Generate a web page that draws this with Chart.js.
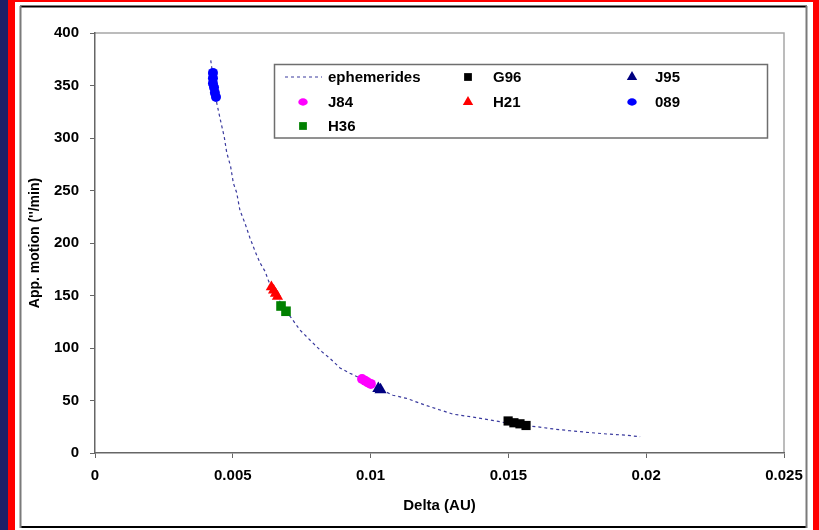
<!DOCTYPE html>
<html>
<head>
<meta charset="utf-8">
<script src="https://cdn.jsdelivr.net/npm/chart.js@4/dist/chart.umd.min.js"></script>
<style>
html,body{margin:0;padding:0;background:#fff;}
#wrap{width:819px;height:530px;}
</style>
</head>
<body>
<div id="wrap"><canvas id="c" width="819" height="530"></canvas></div>
<script>
// ---- data ----
const ephDelta = [0.0042, 0.00442, 0.00456, 0.00469, 0.00478, 0.00492, 0.00502, 0.00514, 0.00526, 0.00544, 0.00562, 0.00581, 0.00599, 0.00617, 0.00631, 0.00653, 0.00682, 0.00714, 0.00744, 0.00786, 0.00823, 0.00853, 0.00889, 0.00925, 0.00983, 0.01034, 0.01081, 0.01131, 0.01197, 0.01252, 0.01299, 0.01361, 0.01421, 0.0147, 0.01528, 0.01603, 0.01662, 0.01724, 0.01784, 0.01857, 0.01929, 0.01978];
const ephMotion = [374, 333, 316, 301, 286, 273, 257, 248, 231, 219, 205, 192, 181, 173, 163, 153, 139, 128, 117, 106, 96.5, 90, 81, 76, 68.6, 61, 55, 52, 45.7, 41, 37, 34.6, 32, 29.8, 26.7, 25, 22.9, 21.2, 19.7, 18.1, 16.9, 15.5];

const g96Delta = [0.01499, 0.0152, 0.01542, 0.01564];
const g96Motion = [30.5, 28.8, 27.8, 26.2];

const j95Delta = [0.01028, 0.01036];
const j95Motion = [61.5, 60.3];

const j84Delta = [0.00969, 0.0098, 0.0099, 0.01001];
const j84Motion = [70.5, 68.8, 67.2, 65.8];

const h21Delta = [0.0064, 0.00648, 0.00655, 0.00662];
const h21Motion = [158, 155, 152, 149];

const o89Delta = [0.00428, 0.00428, 0.00428, 0.00432, 0.00435, 0.00439];
const o89Motion = [362, 357, 352, 348, 343, 339];

const h36Delta = [0.00675, 0.00693];
const h36Motion = [140, 135];

const yTickLabels = ['0', '50', '100', '150', '200', '250', '300', '350', '400'];
const xTickLabels = ['0', '0.005', '0.01', '0.015', '0.02', '0.025'];

const seriesNames = ['ephemerides', 'G96', 'J95', 'J84', 'H21', '089', 'H36'];

function pts(xs, ys) { return xs.map((x, i) => ({x: x, y: ys[i]})); }

const FONT = "'Liberation Sans', Arial, sans-serif";

function drawMarker(ctx, style, color, x, y, r) {
  ctx.save();
  ctx.fillStyle = color;
  ctx.beginPath();
  if (style === 'rect') {
    const s = Math.SQRT1_2 * r;
    ctx.rect(x - s, y - s, 2 * s, 2 * s);
  } else if (style === 'triangle') {
    ctx.moveTo(x, y - r);
    ctx.lineTo(x + r * Math.sin(2 * Math.PI / 3), y - r * Math.cos(2 * Math.PI / 3));
    ctx.lineTo(x + r * Math.sin(4 * Math.PI / 3), y - r * Math.cos(4 * Math.PI / 3));
    ctx.closePath();
  } else {
    ctx.ellipse(x, y, r * 1.1, r * 0.85, 0, 0, Math.PI * 2);
  }
  ctx.fill();
  ctx.restore();
}

const framePlugin = {
  id: 'frame',
  beforeDraw(chart) {
    const ctx = chart.ctx;
    ctx.save();
    ctx.fillStyle = '#ffffff';
    ctx.fillRect(0, 0, 819, 530);
    ctx.fillStyle = '#1f1f66';
    ctx.fillRect(0, 0, 8, 530);
    ctx.fillStyle = '#ff0000';
    ctx.fillRect(8, 0, 7, 530);
    ctx.fillRect(8, 0, 811, 2);
    ctx.fillRect(813, 0, 6, 530);
    // chart area border
    ctx.lineWidth = 2;
    ctx.strokeStyle = '#000000';
    ctx.beginPath();
    ctx.moveTo(20, 6.5); ctx.lineTo(807, 6.5);
    ctx.moveTo(20, 527); ctx.lineTo(807, 527);
    ctx.stroke();
    ctx.strokeStyle = '#7a7a7a';
    ctx.beginPath();
    ctx.moveTo(20.5, 6); ctx.lineTo(20.5, 528);
    ctx.moveTo(806.5, 6); ctx.lineTo(806.5, 528);
    ctx.stroke();
    // plot area top/right border
    const a = chart.chartArea;
    ctx.strokeStyle = '#a6a6a6';
    ctx.lineWidth = 1.5;
    ctx.beginPath();
    ctx.moveTo(a.left, a.top); ctx.lineTo(a.right, a.top); ctx.lineTo(a.right, a.bottom);
    ctx.stroke();
    ctx.restore();
  }
};

const legendPlugin = {
  id: 'customLegend',
  afterDraw(chart) {
    const ctx = chart.ctx;
    ctx.save();
    ctx.strokeStyle = '#6e6e6e';
    ctx.lineWidth = 1.5;
    ctx.strokeRect(274.5, 64.5, 493, 73.5);
    ctx.font = 'bold 15px ' + FONT;
    ctx.fillStyle = '#000';
    ctx.textBaseline = 'middle';
    ctx.textAlign = 'left';
    const rows = [77, 102, 126];
    const colMarker = [303, 468, 632];
    const colText = [328, 493, 655];
    const ds = chart.data.datasets;
    ds.forEach((d, i) => {
      const row = Math.floor(i / 3), col = i % 3;
      const y = rows[row];
      if (d.showLine) {
        ctx.save();
        ctx.strokeStyle = d.borderColor;
        ctx.lineWidth = d.borderWidth;
        ctx.setLineDash(d.borderDash);
        ctx.beginPath();
        ctx.moveTo(285, y); ctx.lineTo(322, y);
        ctx.stroke();
        ctx.restore();
      } else {
        drawMarker(ctx, d.pointStyle, d.backgroundColor, colMarker[col], y, d.legendR);
      }
      ctx.fillText(d.label, colText[col], y + 0.5);
    });
    ctx.restore();
  }
};

const markerSet = (label, xs, ys, color, style, r, legendR) => ({
  label: label, data: pts(xs, ys), backgroundColor: color, borderColor: color,
  pointStyle: style, pointRadius: r, pointBorderWidth: 0, showLine: false, order: 1, legendR: legendR
});

new Chart(document.getElementById('c'), {
  type: 'scatter',
  data: {
    datasets: [
      {label: seriesNames[0], data: pts(ephDelta, ephMotion), showLine: true, borderColor: '#3a3a9e',
       borderWidth: 1.2, borderDash: [3, 3], pointRadius: 0, tension: 0, fill: false, order: 10},
      markerSet(seriesNames[1], g96Delta, g96Motion, '#000000', 'rect', 6.5, 5.5),
      markerSet(seriesNames[2], j95Delta, j95Motion, '#000080', 'triangle', 7, 6),
      markerSet(seriesNames[3], j84Delta, j84Motion, '#ff00ff', 'circle', 5, 4.3),
      markerSet(seriesNames[4], h21Delta, h21Motion, '#ff0000', 'triangle', 6.5, 6),
      markerSet(seriesNames[5], o89Delta, o89Motion, '#0000ff', 'circle', 5, 4.3),
      markerSet(seriesNames[6], h36Delta, h36Motion, '#008000', 'rect', 6.8, 5.5)
    ]
  },
  options: {
    responsive: false,
    animation: false,
    events: [],
    layout: {padding: {left: 0, top: 33, right: 35, bottom: 0}},
    plugins: {legend: {display: false}, tooltip: {enabled: false}},
    scales: {
      x: {
        type: 'linear', min: 0, max: 0.025,
        afterFit(s) { s.height = 77; },
        ticks: {stepSize: 0.005, color: '#000', padding: 9, maxRotation: 0,
          font: {family: FONT, size: 15, weight: 'bold'},
          callback: (v, i) => xTickLabels[i]},
        grid: {display: true, drawOnChartArea: false, drawTicks: true, tickLength: 5, color: '#666666'},
        border: {display: true, color: '#666666', width: 1.5},
        title: {display: true, text: 'Delta (AU)', color: '#000',
          font: {family: FONT, size: 15, weight: 'bold'}, padding: {top: 0, bottom: 15}}
      },
      y: {
        type: 'linear', min: 0, max: 400,
        afterFit(s) { s.width = 95; },
        ticks: {stepSize: 50, color: '#000', padding: 11,
          font: {family: FONT, size: 15, weight: 'bold'},
          callback: (v, i) => yTickLabels[i]},
        grid: {display: true, drawOnChartArea: false, drawTicks: true, tickLength: 5, color: '#666666'},
        border: {display: true, color: '#666666', width: 1.5},
        title: {display: true, text: 'App. motion (\'\'/min)', color: '#000',
          font: {family: FONT, size: 14, weight: 'bold'}, padding: {top: 27, bottom: 0}}
      }
    }
  },
  plugins: [framePlugin, legendPlugin]
});
</script>
</body>
</html>
